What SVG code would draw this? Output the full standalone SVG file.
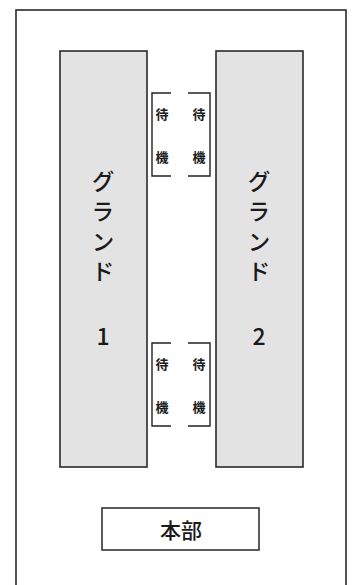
<svg xmlns="http://www.w3.org/2000/svg" width="354" height="585" viewBox="0 0 354 585">
<style>
.frame{fill:none;stroke:#2a2a2a;stroke-width:1.6}
.ground{fill:#e3e3e3;stroke:#2a2a2a;stroke-width:1.6}
.box{fill:#fff;stroke:#333;stroke-width:1.6}
.br{fill:none;stroke:#222;stroke-width:1.4}
.t{font-family:"Noto Sans CJK JP","Noto Sans",sans-serif;fill:#1a1a1a;text-anchor:middle;dominant-baseline:central}
.v{font-family:"Noto Sans CJK JP","Noto Sans",sans-serif;fill:#1a1a1a;writing-mode:vertical-rl;text-anchor:start;font-size:23px;font-weight:500;letter-spacing:7px}
.vw{font-family:"Noto Sans CJK JP","Noto Sans",sans-serif;fill:#1a1a1a;writing-mode:vertical-rl;text-anchor:start;font-size:13px;font-weight:bold;letter-spacing:30px}
.g{font-size:23px;font-weight:500}
.h{font-size:21px;font-weight:500}
</style>
<rect x="0" y="0" width="354" height="585" fill="#fff"/>
<rect class="frame" x="16" y="10" width="330" height="590"/>
<g id="ground1">
<rect class="ground" x="60" y="51" width="87" height="416"/>
<text class="v" x="103" y="170">グランド</text>
<text class="t g" x="103" y="335">1</text>
</g>
<g id="ground2">
<rect class="ground" x="216" y="51" width="87" height="416"/>
<text class="v" x="259" y="170">グランド</text>
<text class="t g" x="259" y="335">2</text>
</g>
<g id="wait1">
<path class="br" d="M171,93 H152 V176 H171"/>
<path class="br" d="M188,93 H210 V176 H188"/>
<text class="vw" x="162" y="107.5">待機</text>
<text class="vw" x="199" y="107.5">待機</text>
</g>
<g id="wait2">
<path class="br" d="M171,343 H152 V426 H171"/>
<path class="br" d="M188,343 H210 V426 H188"/>
<text class="vw" x="162" y="357.5">待機</text>
<text class="vw" x="199" y="357.5">待機</text>
</g>
<g id="honbu">
<rect class="box" x="102" y="508" width="157" height="42"/>
<text class="t h" x="181" y="529">本部</text>
</g>
<g id="connectors"></g>
</svg>
